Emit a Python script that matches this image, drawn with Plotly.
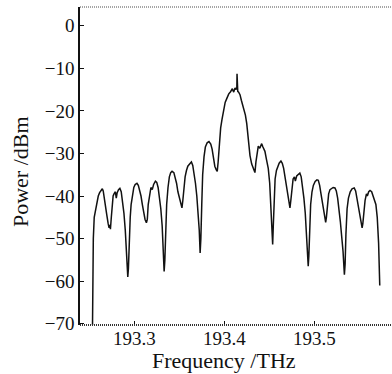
import plotly.graph_objects as go

freq_thz = [
    193.2536, 193.2538, 193.2545, 193.2555, 193.2570, 193.2585, 193.2600, 193.2615, 193.2630, 193.2645,
    193.2655, 193.2665, 193.2680, 193.2695, 193.2710, 193.2720, 193.2728, 193.2735, 193.2745, 193.2755,
    193.2765, 193.2775, 193.2790, 193.2800, 193.2810, 193.2825, 193.2840, 193.2855, 193.2870, 193.2885,
    193.2900, 193.2915, 193.2928, 193.2935, 193.2945, 193.2955, 193.2965, 193.2980, 193.2995, 193.3010,
    193.3030, 193.3045, 193.3060, 193.3075, 193.3090, 193.3105, 193.3120, 193.3135, 193.3145, 193.3155,
    193.3170, 193.3185, 193.3200, 193.3215, 193.3235, 193.3250, 193.3265, 193.3280, 193.3295, 193.3310,
    193.3320, 193.3332, 193.3340, 193.3350, 193.3360, 193.3375, 193.3390, 193.3405, 193.3420, 193.3440,
    193.3455, 193.3470, 193.3485, 193.3500, 193.3515, 193.3530, 193.3540, 193.3550, 193.3565, 193.3580,
    193.3595, 193.3615, 193.3635, 193.3650, 193.3665, 193.3680, 193.3695, 193.3710, 193.3722, 193.3732,
    193.3740, 193.3750, 193.3760, 193.3775, 193.3790, 193.3810, 193.3830, 193.3850, 193.3865, 193.3880,
    193.3895, 193.3910, 193.3922, 193.3932, 193.3945, 193.3960, 193.3975, 193.3990, 193.4010, 193.4030,
    193.4050, 193.4070, 193.4090, 193.4105, 193.4120, 193.4132, 193.4140, 193.4142, 193.4144, 193.4150,
    193.4160, 193.4175, 193.4190, 193.4205, 193.4220, 193.4235, 193.4250, 193.4265, 193.4286, 193.4305,
    193.4322, 193.4341, 193.4352, 193.4365, 193.4378, 193.4395, 193.4405, 193.4416, 193.4430, 193.4452,
    193.4470, 193.4489, 193.4505, 193.4518, 193.4530, 193.4538, 193.4545, 193.4555, 193.4565, 193.4580,
    193.4595, 193.4610, 193.4630, 193.4645, 193.4660, 193.4675, 193.4690, 193.4705, 193.4718, 193.4730,
    193.4740, 193.4750, 193.4765, 193.4780, 193.4790, 193.4805, 193.4825, 193.4840, 193.4855, 193.4870,
    193.4885, 193.4900, 193.4912, 193.4925, 193.4933, 193.4940, 193.4948, 193.4960, 193.4975, 193.4990,
    193.5010, 193.5030, 193.5045, 193.5060, 193.5075, 193.5090, 193.5105, 193.5118, 193.5127, 193.5135,
    193.5145, 193.5160, 193.5175, 193.5190, 193.5210, 193.5230, 193.5245, 193.5260, 193.5275, 193.5290,
    193.5305, 193.5320, 193.5335, 193.5343, 193.5352, 193.5365, 193.5380, 193.5400, 193.5420, 193.5444,
    193.5460, 193.5475, 193.5490, 193.5505, 193.5520, 193.5532, 193.5540, 193.5550, 193.5565, 193.5580,
    193.5590, 193.5605, 193.5620, 193.5638, 193.5655, 193.5670, 193.5685, 193.5700, 193.5715, 193.5728,
]

power_dbm = [
    -70.3, -59.0, -50.0, -45.0, -43.0, -41.0, -40.0, -39.2, -38.6, -38.3,
    -38.8, -40.0, -42.0, -44.5, -46.5, -47.5, -46.8, -47.8, -45.0, -42.0,
    -40.0, -39.5, -39.0, -40.5, -39.2, -38.5, -38.2, -39.0, -41.0, -44.0,
    -48.0, -53.0, -59.0, -57.0, -50.0, -45.0, -42.0, -39.5, -38.0, -37.3,
    -37.0, -37.5, -38.5, -40.0, -42.0, -44.0, -45.5, -46.3, -45.5, -42.0,
    -39.5, -38.0, -38.5, -37.3, -36.5, -36.8, -38.0, -40.0, -43.0, -47.0,
    -52.0, -57.7, -55.0, -47.0, -42.0, -38.0, -35.5, -34.5, -34.2, -34.5,
    -35.5, -37.0, -39.0, -40.5, -41.5, -42.8, -41.0, -38.0, -35.5, -34.0,
    -33.0, -32.5, -32.0, -32.8, -34.5, -37.0, -40.0, -44.0, -48.0, -53.4,
    -50.0, -42.0, -35.0, -30.8, -28.5, -27.5, -27.2, -27.8, -29.0, -31.0,
    -33.0, -33.8, -34.2, -32.0, -27.0, -24.0, -22.0, -19.8, -18.0, -17.0,
    -16.0, -15.5, -14.8, -15.6, -14.6, -15.0, -14.5, -11.3, -14.8, -15.4,
    -15.6, -16.2, -17.5, -18.5, -19.5, -21.0, -23.0, -26.5, -30.5, -32.5,
    -33.5, -34.5, -32.0, -29.5, -28.3, -28.8, -28.0, -27.7, -28.5, -29.5,
    -31.5, -33.5, -37.0, -42.0, -47.0, -51.4, -47.0, -40.0, -36.0, -34.0,
    -33.0, -32.3, -31.8, -32.3, -33.5, -35.5, -37.5, -39.5, -41.5, -42.8,
    -41.0, -38.0, -36.0, -35.5, -36.5, -35.3, -34.8, -34.6, -35.5, -37.5,
    -40.5, -44.0, -48.0, -53.0, -56.5, -54.0, -48.0, -42.0, -39.0, -37.5,
    -36.6, -36.2, -36.3, -37.5, -39.5, -41.5, -44.0, -45.5, -46.2, -45.0,
    -42.0, -39.5, -38.5, -38.3, -38.0, -38.1, -38.8, -40.5, -43.0, -46.0,
    -49.5, -53.0, -58.5, -56.0, -49.0, -43.0, -40.5, -39.0, -38.3, -38.1,
    -38.8, -40.5, -42.5, -44.5, -46.5, -47.5, -46.5, -44.0, -41.0, -39.5,
    -40.0, -39.0, -38.7, -39.0, -40.0, -41.0, -42.0, -45.0, -51.0, -61.0,
]

x_tick_vals = [193.3, 193.4, 193.5]
x_tick_text = ["193.3", "193.4", "193.5"]
y_tick_vals = [0, -10, -20, -30, -40, -50, -60, -70]
y_tick_text = ["0", "\u221210", "\u221220", "\u221230", "\u221240", "\u221250", "\u221260", "\u221270"]

x_title = "Frequency /THz"
y_title = "Power /dBm"

FONT = "Liberation Serif"

fig = go.Figure()
fig.add_trace(go.Scatter(
    x=freq_thz, y=power_dbm, mode="lines",
    line=dict(color="#111111", width=1.5),
    showlegend=False, hoverinfo="skip",
))

fig.update_layout(
    width=392, height=374,
    margin=dict(l=80, r=0, t=7, b=49),
    paper_bgcolor="white", plot_bgcolor="white",
    font=dict(family=FONT, color="#111111", size=19),
)
fig.update_xaxes(
    range=[193.2397, 193.5864],
    showgrid=False, zeroline=False, showline=False,
    ticks="inside", ticklen=4, tickwidth=1.2, tickcolor="#111111",
    tickmode="array", tickvals=x_tick_vals, ticktext=x_tick_text,
    tickfont_family=FONT, tickfont_size=19, tickfont_color="#111111",
)
fig.update_yaxes(
    range=[-70.3, 4.4],
    showgrid=False, zeroline=False,
    showline=True, linecolor="#111111", linewidth=1.5,
    ticks="inside", ticklen=4, tickwidth=1.2, tickcolor="#111111",
    tickmode="array", tickvals=y_tick_vals, ticktext=y_tick_text,
    tickfont_family=FONT, tickfont_size=19, tickfont_color="#111111",
)
fig.update_layout(
    shapes=[
        dict(type="line", xref="paper", yref="paper", x0=0, x1=1, y0=0, y1=0,
             line=dict(color="#333333", width=2, dash="1px,1px")),
        dict(type="line", xref="paper", yref="paper", x0=0, x1=1, y0=1, y1=1,
             line=dict(color="#888888", width=1.5, dash="1px,1px")),
    ],
    annotations=[
        dict(text=x_title, xref="paper", yref="paper", x=0.4615, y=-0.112,
             xanchor="center", yanchor="middle", showarrow=False,
             font=dict(family=FONT, size=22, color="#111111")),
        dict(text=y_title, xref="paper", yref="paper", x=-0.1923, y=0.481,
             xanchor="center", yanchor="middle", showarrow=False, textangle=-90,
             font=dict(family=FONT, size=22, color="#111111")),
    ],
)

fig.write_html("out.html")
